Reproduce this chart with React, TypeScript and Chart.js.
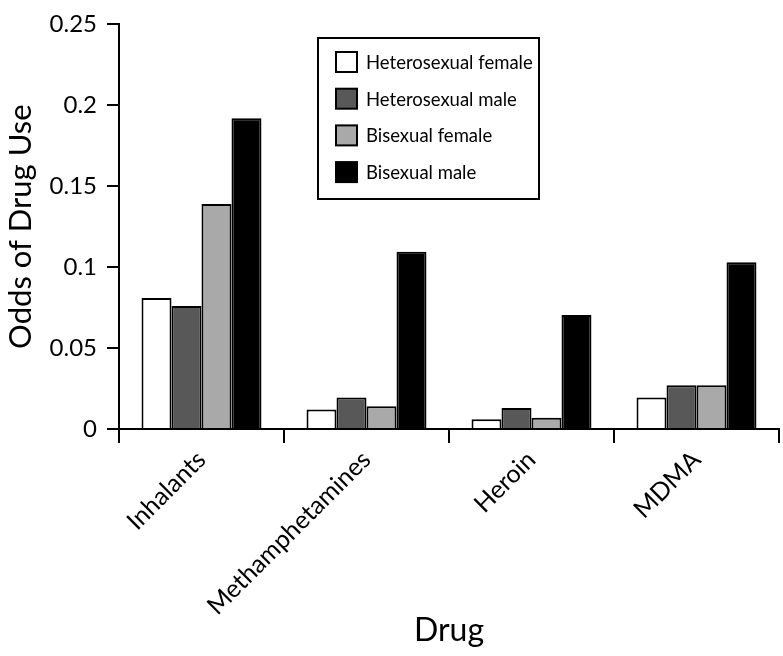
import React, { useEffect, useRef } from "react";
import { Chart, registerables } from "chart.js";

Chart.register(...registerables);

const drugs = ["Inhalants", "Methamphetamines", "Heroin", "MDMA"];
const seriesLabels = ["Heterosexual female", "Heterosexual male", "Bisexual female", "Bisexual male"];
const heteroFemale = [0.081, 0.012, 0.006, 0.0195];
const heteroMale = [0.076, 0.0195, 0.013, 0.027];
const biFemale = [0.139, 0.014, 0.007, 0.027];
const biMale = [0.192, 0.1095, 0.0705, 0.103];
const yTickValues = [0, 0.05, 0.1, 0.15, 0.2, 0.25];
const yTickLabels = ["0", "0.05", "0.1", "0.15", "0.2", "0.25"];
const seriesColors = ["#ffffff", "#585858", "#a9a9a9", "#000000"];

const FONT = "Lato, 'Open Sans', sans-serif";

const boxLegend = {
  id: "boxLegend",
  afterDraw(chart: any) {
    const ctx = chart.ctx as CanvasRenderingContext2D;
    const box = { x: 318, y: 38, w: 221, h: 161 };
    const sq = { x: 336, y: 52, w: 21, h: 20, gap: 36.7 };
    const textX = 366;
    ctx.save();
    ctx.lineWidth = 2;
    ctx.strokeStyle = "#000";
    ctx.fillStyle = "#fff";
    ctx.fillRect(box.x, box.y, box.w, box.h);
    ctx.strokeRect(box.x, box.y, box.w, box.h);
    chart.data.datasets.forEach((ds: any, i: number) => {
      const y = sq.y + i * sq.gap;
      ctx.fillStyle = ds.backgroundColor;
      ctx.fillRect(sq.x, y, sq.w, sq.h);
      ctx.strokeStyle = "#000";
      ctx.lineWidth = 2;
      ctx.strokeRect(sq.x, y, sq.w, sq.h);
      ctx.fillStyle = "#000";
      ctx.font = `18.5px ${FONT}`;
      ctx.textBaseline = "middle";
      ctx.textAlign = "left";
      ctx.fillText(ds.label, textX, y + sq.h / 2 + 1);
    });
    ctx.restore();
  },
};

export default function App() {
  const ref = useRef<HTMLCanvasElement | null>(null);

  useEffect(() => {
    if (!ref.current) return;
    const seriesData = [heteroFemale, heteroMale, biFemale, biMale];
    const chart = new Chart(ref.current, {
      type: "bar",
      data: {
        labels: drugs,
        datasets: seriesData.map((d, i) => ({
          label: seriesLabels[i],
          data: d,
          backgroundColor: seriesColors[i],
          borderColor: "#000",
          borderWidth: 2,
          borderSkipped: "bottom",
          categoryPercentage: 0.727,
          barPercentage: 1.0,
        })),
      },
      options: {
        responsive: false,
        animation: false,
        layout: { padding: { top: 15, right: 4, left: 0, bottom: 0 } },
        plugins: {
          legend: { display: false },
          tooltip: { enabled: false },
        },
        scales: {
          x: {
            afterFit: (s: any) => {
              s.height = 227;
            },
            grid: {
              drawOnChartArea: false,
              color: "#000",
              lineWidth: 2,
              tickLength: 14,
              offset: true,
            },
            border: { color: "#000", width: 2 },
            ticks: {
              color: "#000",
              minRotation: 45,
              maxRotation: 45,
              padding: 2,
              font: { family: FONT, size: 25 },
            },
            title: {
              display: true,
              text: "Drug",
              color: "#000",
              font: { family: FONT, size: 32 },
              padding: { top: 0, bottom: 6 },
            },
          },
          y: {
            min: 0,
            max: 0.25,
            afterFit: (s: any) => {
              s.width = 119;
            },
            afterBuildTicks: (s: any) => {
              s.ticks = yTickValues.map((v) => ({ value: v }));
            },
            grid: {
              drawOnChartArea: false,
              color: "#000",
              lineWidth: 2,
              tickLength: 12,
            },
            border: { color: "#000", width: 2 },
            ticks: {
              color: "#000",
              padding: 10,
              font: { family: FONT, size: 24 },
              callback: (v: any) => {
                const idx = yTickValues.findIndex((t) => Math.abs(t - Number(v)) < 1e-9);
                return idx >= 0 ? yTickLabels[idx] : String(v);
              },
            },
            title: {
              display: true,
              text: "Odds of Drug Use",
              color: "#000",
              font: { family: FONT, size: 31 },
              padding: { top: 2, bottom: 0 },
            },
          },
        },
      },
      plugins: [boxLegend],
    });
    return () => chart.destroy();
  }, []);

  return (
    <div style={{ position: "fixed", left: 0, top: 0, width: 783, height: 656, background: "#fff" }}>
      <canvas ref={ref} width={783} height={656} style={{ display: "block", width: 783, height: 656 }} />
    </div>
  );
}
